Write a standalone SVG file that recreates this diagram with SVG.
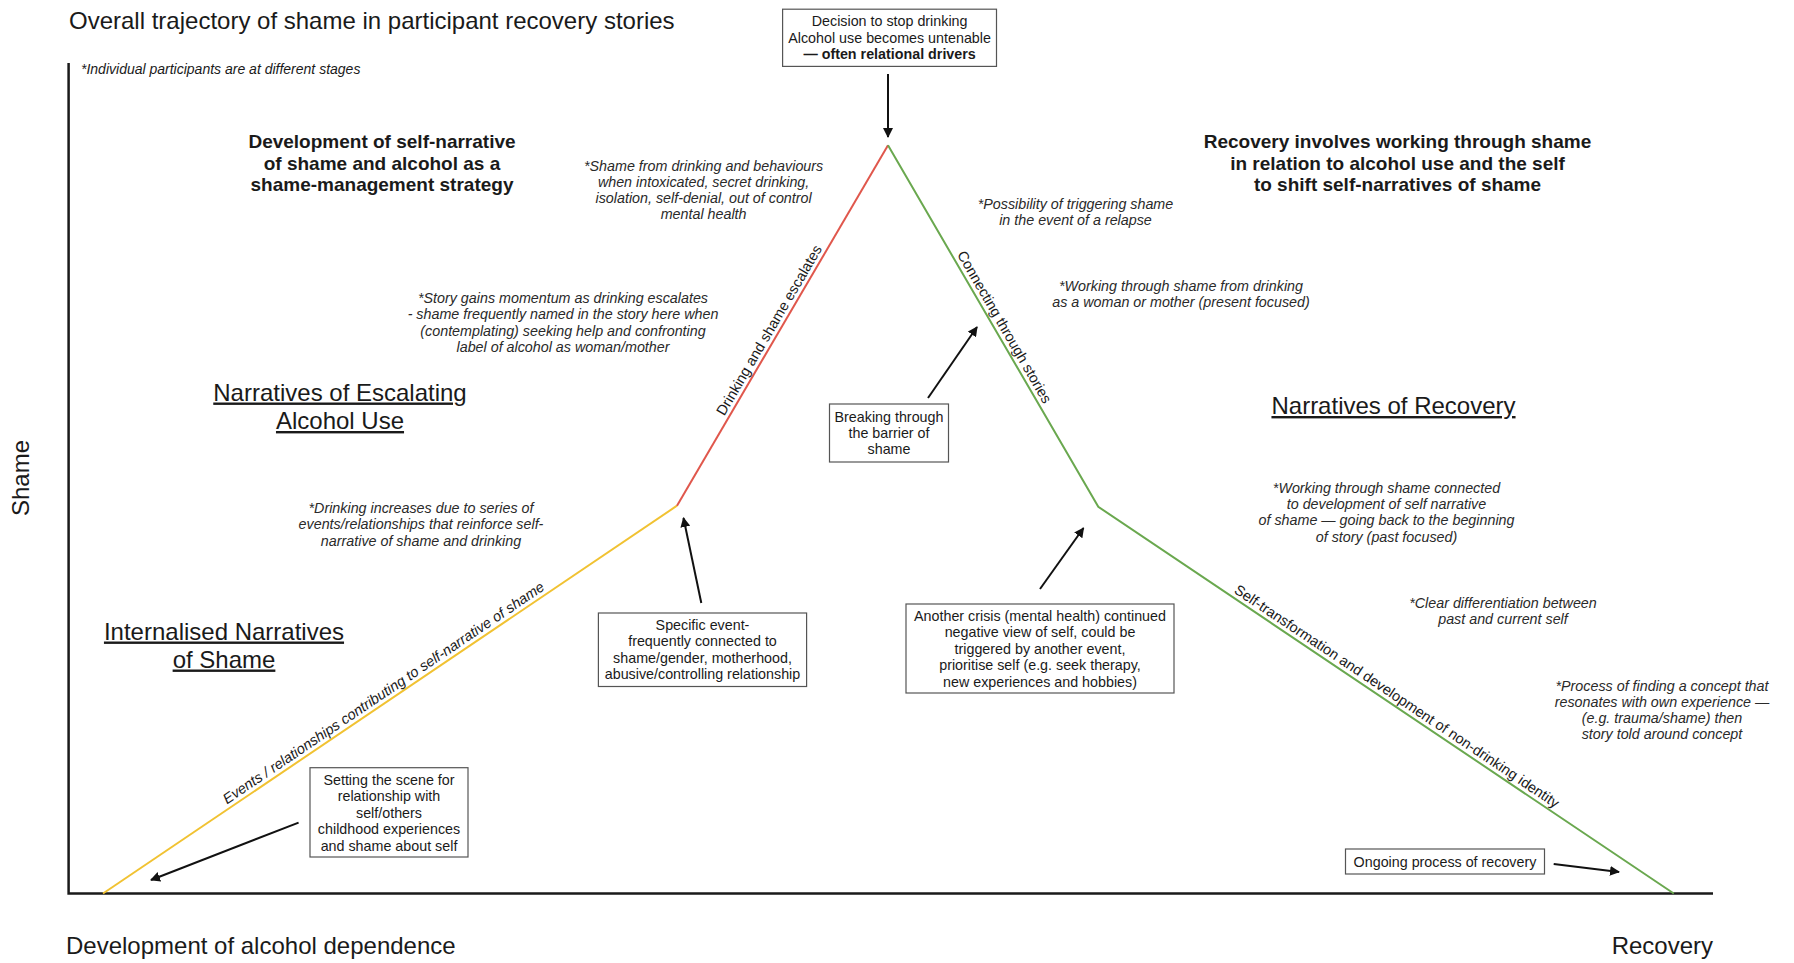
<svg xmlns="http://www.w3.org/2000/svg" width="1794" height="963" viewBox="0 0 1794 963">
<style>
text{font-family:"Liberation Sans",Arial,sans-serif;fill:#1a1a1a}
.big{font-size:24px}
.head{font-size:19px;font-weight:bold;text-anchor:middle}
.note{font-size:14.3px;font-style:italic;text-anchor:middle;fill:#2a2a2a}
.box{fill:#fff;stroke:#555;stroke-width:1.2}
.bt{font-size:14.3px;text-anchor:middle}
.sec{font-size:24px;text-anchor:middle;text-decoration:underline}
.along{font-size:14.5px;text-anchor:middle}
.arrow{stroke:#111;stroke-width:2;fill:none;marker-end:url(#ah)}
.axis{stroke:#1a1a1a;stroke-width:2.5;fill:none}
</style>
<defs>
<marker id="ah" viewBox="0 0 10 10" refX="9" refY="5" markerWidth="5" markerHeight="5" orient="auto" markerUnits="strokeWidth">
<path d="M0,0 L10,5 L0,10 z" fill="#111"/>
</marker>
</defs>
<rect width="1794" height="963" fill="#fff"/>

<g id="title"><text class="big" x="69" y="29">Overall trajectory of shame in participant recovery stories</text></g>
<g id="stages-note"><text x="81" y="74" style="font-size:14px;font-style:italic">*Individual participants are at different stages</text></g>

<g id="axes">
<path class="axis" d="M68.6,63 V893.5 H1713"/>
<text class="big" x="29" y="478" text-anchor="middle" transform="rotate(-90 29 478)">Shame</text>
<text class="big" x="66" y="954">Development of alcohol dependence</text>
<text class="big" x="1713" y="954" text-anchor="end">Recovery</text>
</g>

<g id="trajectory">
<line x1="103" y1="893.5" x2="677" y2="505.7" stroke="#f1c232" stroke-width="2"/>
<line x1="677" y1="505.7" x2="888" y2="145.3" stroke="#e0574c" stroke-width="2"/>
<polyline points="888,145.3 1098.3,506.8 1673.8,893.5" fill="none" stroke="#6aa84f" stroke-width="2"/>
<text class="along" style="font-style:italic" x="386.2" y="696.9" transform="rotate(-34.04 386.2 696.9)">Events / relationships contributing to self-narrative of shame</text>
<text class="along" x="773.4" y="332.6" transform="rotate(-59.66 773.4 332.6)">Drinking and shame escalates</text>
<text class="along" x="1000.2" y="329.5" transform="rotate(59.85 1000.2 329.5)">Connecting through stories</text>
<text class="along" x="1394.2" y="700.4" transform="rotate(33.88 1394.2 700.4)">Self-transformation and development of non-drinking identity</text>
</g>

<g id="connectors">
<line class="arrow" x1="888" y1="74" x2="888" y2="137"/>
<line class="arrow" x1="928" y1="398" x2="977" y2="327"/>
<line class="arrow" x1="701.3" y1="603" x2="683.5" y2="518"/>
<line class="arrow" x1="1040" y1="589" x2="1083.5" y2="528"/>
<line class="arrow" x1="298.6" y1="822.6" x2="151" y2="880"/>
<line class="arrow" x1="1553.7" y1="864" x2="1619" y2="872"/>
</g>

<g id="heading-left">
<text class="head" x="382" y="147.6">Development of self-narrative</text>
<text class="head" x="382" y="169.5">of shame and alcohol as a</text>
<text class="head" x="382" y="191.4">shame-management strategy</text>
</g>
<g id="heading-right">
<text class="head" x="1397.5" y="147.6">Recovery involves working through shame</text>
<text class="head" x="1397.5" y="169.5">in relation to alcohol use and the self</text>
<text class="head" x="1397.5" y="191.4">to shift self-narratives of shame</text>
</g>

<g id="decision-box">
<rect class="box" x="782.6" y="9.2" width="213.9" height="57.2"/>
<text class="bt" x="889.6" y="26">Decision to stop drinking</text>
<text class="bt" x="889.6" y="42.5">Alcohol use becomes untenable</text>
<text class="bt" x="889.6" y="59" font-weight="bold">— often relational drivers</text>
</g>

<g id="note-shame-drinking">
<text class="note" x="703.6" y="170.5">*Shame from drinking and behaviours</text>
<text class="note" x="703.6" y="186.7">when intoxicated, secret drinking,</text>
<text class="note" x="703.6" y="202.9">isolation, self-denial, out of control</text>
<text class="note" x="703.6" y="219.1">mental health</text>
</g>
<g id="note-relapse">
<text class="note" x="1075.5" y="209">*Possibility of triggering shame</text>
<text class="note" x="1075.5" y="225.2">in the event of a relapse</text>
</g>
<g id="note-woman">
<text class="note" x="1181" y="290.6">*Working through shame from drinking</text>
<text class="note" x="1181" y="306.8">as a woman or mother (present focused)</text>
</g>
<g id="note-momentum">
<text class="note" x="563" y="303">*Story gains momentum as drinking escalates</text>
<text class="note" x="563" y="319.3">- shame frequently named in the story here when</text>
<text class="note" x="563" y="335.6">(contemplating) seeking help and confronting</text>
<text class="note" x="563" y="351.9">label of alcohol as woman/mother</text>
</g>

<g id="section-escalating">
<text class="sec" x="340" y="400.5">Narratives of Escalating</text>
<text class="sec" x="340" y="429">Alcohol Use</text>
</g>
<g id="section-recovery">
<text class="sec" x="1393.5" y="414">Narratives of Recovery</text>
</g>
<g id="section-internalised">
<text class="sec" x="224" y="639.5">Internalised Narratives</text>
<text class="sec" x="224" y="667.5">of Shame</text>
</g>

<g id="breaking-box">
<rect class="box" x="829.5" y="404" width="119" height="58"/>
<text class="bt" x="889" y="422">Breaking through</text>
<text class="bt" x="889" y="438.2">the barrier of</text>
<text class="bt" x="889" y="454.4">shame</text>
</g>

<g id="note-past">
<text class="note" x="1386.5" y="492.5">*Working through shame connected</text>
<text class="note" x="1386.5" y="508.9">to development of self narrative</text>
<text class="note" x="1386.5" y="525.3">of shame — going back to the beginning</text>
<text class="note" x="1386.5" y="541.7">of story (past focused)</text>
</g>
<g id="note-drinking-increases">
<text class="note" x="421" y="513">*Drinking increases due to series of</text>
<text class="note" x="421" y="529.4">events/relationships that reinforce self-</text>
<text class="note" x="421" y="545.8">narrative of shame and drinking</text>
</g>

<g id="specific-box">
<rect class="box" x="598.4" y="613" width="208.2" height="73.5"/>
<text class="bt" x="702.5" y="629.5">Specific event-</text>
<text class="bt" x="702.5" y="646">frequently connected to</text>
<text class="bt" x="702.5" y="662.5">shame/gender, motherhood,</text>
<text class="bt" x="702.5" y="679">abusive/controlling relationship</text>
</g>

<g id="crisis-box">
<rect class="box" x="906" y="604" width="268" height="89"/>
<text class="bt" x="1040" y="621">Another crisis (mental health) continued</text>
<text class="bt" x="1040" y="637.4">negative view of self, could be</text>
<text class="bt" x="1040" y="653.8">triggered by another event,</text>
<text class="bt" x="1040" y="670.2">prioritise self (e.g. seek therapy,</text>
<text class="bt" x="1040" y="686.6">new experiences and hobbies)</text>
</g>

<g id="note-differentiation">
<text class="note" x="1503" y="608">*Clear differentiation between</text>
<text class="note" x="1503" y="624.2">past and current self</text>
</g>
<g id="note-concept">
<text class="note" x="1662" y="690.5">*Process of finding a concept that</text>
<text class="note" x="1662" y="706.7">resonates with own experience —</text>
<text class="note" x="1662" y="722.9">(e.g. trauma/shame) then</text>
<text class="note" x="1662" y="739.1">story told around concept</text>
</g>

<g id="scene-box">
<rect class="box" x="310" y="767.7" width="158" height="89.3"/>
<text class="bt" x="389" y="785">Setting the scene for</text>
<text class="bt" x="389" y="801.4">relationship with</text>
<text class="bt" x="389" y="817.8">self/others</text>
<text class="bt" x="389" y="834.2">childhood experiences</text>
<text class="bt" x="389" y="850.6">and shame about self</text>
</g>

<g id="ongoing-box">
<rect class="box" x="1345.5" y="849" width="199" height="25"/>
<text class="bt" x="1445" y="866.5">Ongoing process of recovery</text>
</g>
</svg>
